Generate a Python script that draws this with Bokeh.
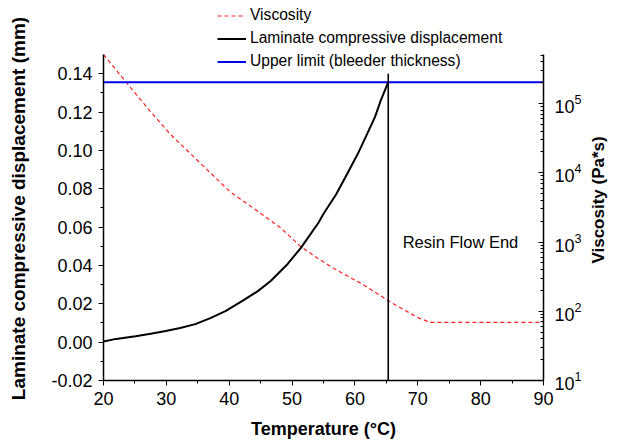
import math
from bokeh.plotting import figure
from bokeh.models import (Range1d, LogAxis, LinearAxis, LogScale, Legend, LegendItem, Label,
                          SingleIntervalTicker, LogTicker, FixedTicker, PrintfTickFormatter)
from bokeh.embed import file_html
from bokeh.resources import INLINE

# ---- data ----
temp_disp = [20.0, 22.0, 25.1, 27.5, 29.9, 32.2, 34.6, 37.0, 39.4, 42.1, 44.5, 46.6, 49.3,
             51.4, 54.2, 55.0, 57.0, 58.8, 60.5, 62.0, 63.2, 64.1, 65.3]
disp = [0.0003, 0.0017, 0.0031, 0.0044, 0.0058, 0.0074, 0.0094, 0.0125, 0.0162, 0.0215, 0.0265,
        0.0319, 0.0408, 0.0492, 0.0623, 0.0670, 0.0770, 0.0880, 0.0985, 0.109, 0.1175, 0.126, 0.1356]

temp_visc = [20.0, 23.5, 27.5, 30.7, 35.4, 40.2, 45.0, 48.2, 51.3, 54.0, 56.6, 61.4, 65.7, 70.0, 72.0, 90.0]
visc = [510000, 209000, 75900, 35500, 13800, 5250, 2600, 1600, 871, 590, 417, 240, 135, 81, 69, 69]

upper_temp = [20, 90]
upper_limit = [0.1355, 0.1355]

flow_end_temp = [65.3, 65.3]
flow_end_disp = [-0.02, 0.14]

FONT = "Liberation Sans"

p = figure(width=623, height=445, output_backend="svg", toolbar_location=None,
           x_range=Range1d(20, 90), y_range=Range1d(-0.02, 0.1782),
           min_border_left=103, min_border_right=80, min_border_top=0, min_border_bottom=65)
p.outline_line_color = None
p.grid.visible = False
p.background_fill_color = "white"
p.border_fill_color = "white"

p.extra_y_ranges = {"visc": Range1d(10, 3.08e6)}
p.extra_y_scales = {"visc": LogScale()}

# renderers
r_visc = p.line(temp_visc, visc, y_range_name="visc", line_color="#ff2020",
                line_width=1.2, line_dash="4 3")
r_disp = p.line(temp_disp, disp, line_color="black", line_width=2)
r_up = p.line(upper_temp, upper_limit, line_color="#0000ee", line_width=2)
p.line(flow_end_temp, flow_end_disp, line_color="black", line_width=1.6)

p.add_layout(Label(x=67.6, y=0.0524, text="Resin Flow End", text_font=FONT,
                   text_font_size="16.5px", text_color="black", text_baseline="alphabetic"))

# axes
def style_axis(ax):
    ax.axis_line_width = 1.5
    ax.axis_line_color = "black"
    ax.major_tick_line_color = "black"
    ax.minor_tick_line_color = "black"
    ax.major_label_text_font = FONT
    ax.major_label_text_font_size = "18px"
    ax.major_label_text_color = "black"
    ax.axis_label_text_font = FONT
    ax.axis_label_text_font_size = "18px"
    ax.axis_label_text_font_style = "bold"
    ax.axis_label_text_color = "black"

xa = p.xaxis[0]
xa.ticker = SingleIntervalTicker(interval=10, num_minor_ticks=2)
xa.axis_label = "Temperature (°C)"
style_axis(xa)
xa.major_tick_out = 5
xa.major_tick_in = 0
xa.minor_tick_out = 3
xa.minor_tick_in = 0
xa.major_label_standoff = 6
xa.axis_label_standoff = 11

ya = p.yaxis[0]
ya.ticker = SingleIntervalTicker(interval=0.02, num_minor_ticks=2)
ya.formatter = PrintfTickFormatter(format="%.2f")
ya.bounds = (-0.02, 0.15)
style_axis(ya)
ya.major_tick_out = 5
ya.major_tick_in = 0
ya.minor_tick_out = 3
ya.minor_tick_in = 0
ya.major_label_standoff = 6

ra = LogAxis(y_range_name="visc", ticker=LogTicker(num_minor_ticks=10))
ra.bounds = (10, 510000)
style_axis(ra)
ra.major_tick_in = 5
ra.major_tick_out = 0
ra.minor_tick_in = 3
ra.minor_tick_out = 0
ra.major_label_standoff = 11
p.add_layout(ra, "right")

# y-axis titles, drawn as single tick labels of bare outer axes so they read bottom to top
LEFT_TITLE = "Laminate compressive displacement (mm)"
RIGHT_TITLE = "Viscosity  (Pa*s)"
left_pos = 0.0697
right_pos = 0.0410

def title_axis(pos, text, standoff, orient, size):
    ax = LinearAxis(ticker=FixedTicker(ticks=[pos]), major_label_overrides={pos: text})
    ax.axis_line_color = None
    ax.major_tick_line_color = None
    ax.minor_tick_line_color = None
    ax.major_tick_in = 0
    ax.major_tick_out = 0
    ax.minor_tick_in = 0
    ax.minor_tick_out = 0
    ax.major_label_orientation = orient
    ax.major_label_standoff = standoff
    ax.major_label_text_font = FONT
    ax.major_label_text_font_size = size
    ax.major_label_text_font_style = "bold"
    ax.major_label_text_color = "black"
    return ax

p.add_layout(title_axis(left_pos, LEFT_TITLE, 19, "parallel", "19px"), "left")
p.add_layout(title_axis(right_pos, RIGHT_TITLE, 14, math.pi / 2, "17px"), "right")

legend = Legend(items=[LegendItem(label="Viscosity", renderers=[r_visc]),
                       LegendItem(label="Laminate compressive displacement", renderers=[r_disp]),
                       LegendItem(label="Upper limit (bleeder thickness)", renderers=[r_up])],
                location=(114, 310))
legend.glyph_width = 29
legend.glyph_height = 17
legend.label_height = 17
legend.spacing = 5
legend.padding = 0
legend.margin = 0
legend.label_standoff = 4
legend.border_line_color = None
legend.background_fill_alpha = 0
legend.label_text_font = FONT
legend.label_text_font_size = "15.6px"
legend.label_text_color = "black"
p.add_layout(legend)

html = file_html(p, INLINE)
open("out.html", "w").write(html)
